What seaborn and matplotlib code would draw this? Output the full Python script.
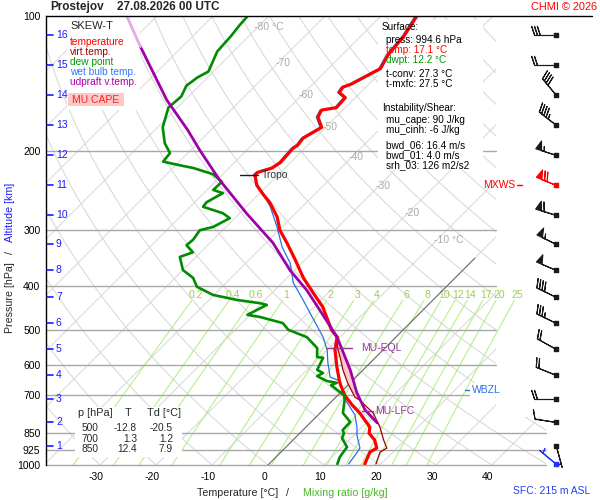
import numpy as np
import matplotlib
matplotlib.use("Agg")
import matplotlib.pyplot as plt
import seaborn as sns
from matplotlib.patches import Rectangle, Polygon
from matplotlib.transforms import ScaledTranslation
from matplotlib.ticker import NullLocator

# ---- sounding values (p in hPa, T in degC) ----
temp_p = [100, 111, 122, 131, 142, 144, 148, 152, 160, 162, 168, 177, 187, 194, 197,
          212, 218, 223, 226, 238, 250, 260, 280, 300, 320, 349, 383, 412, 445, 500,
          519, 554, 605, 657, 700, 735, 766, 823, 850, 880, 917, 936, 994.6]
temp_t = [-53.6, -52.3, -51.8, -50.7, -53.2, -54.1, -53.8, -51.8, -51.6, -53.8, -53.2,
          -50.7, -52.1, -51.8, -52.1, -51.8, -52.3, -54.1, -54.1, -52.0, -49.1, -46.6,
          -42.7, -39.8, -36.3, -31.8, -27.1, -22.9, -18.4, -12.8, -10.5, -8.6, -5.2,
          -1.8, 1.3, 4.3, 7.1, 11.4, 12.4, 14.6, 16.4, 15.9, 17.1]

virt_p = [519, 546, 575, 614, 657, 706, 717, 766, 823, 880, 917, 936, 994.6]
virt_t = [-10.3, -8.7, -6.4, -3.6, -0.4, 3.4, 4.8, 9.5, 13.2, 16.2, 18.2, 17.7, 19.1]

wetb_p = [100, 111, 122, 131, 142, 144, 148, 152, 160, 162, 168, 177, 187, 194, 197,
          212, 218, 223, 226, 240, 266, 295, 327, 355, 393, 429, 459, 488, 519, 554,
          593, 637, 650, 681, 709, 743, 774, 823, 857, 917, 950, 994.6]
wetb_t = [-53.9, -52.6, -52.1, -51.0, -53.5, -54.4, -54.1, -52.1, -51.9, -54.1, -53.5,
          -51.0, -52.4, -52.1, -52.4, -52.1, -52.6, -54.4, -54.4, -51.4, -45.7, -40.9,
          -36.4, -32.1, -28.0, -23.2, -19.6, -16.3, -13.0, -10.0, -7.5, -4.6, -2.1,
          0.0, 1.6, 4.3, 6.6, 9.1, 10.5, 13.4, 13.8, 14.2]

dew_p = [100, 105, 111, 120, 133, 137, 143, 151, 160, 177, 192, 202, 211, 215, 218,
         225, 234, 244, 248, 260, 266, 275, 282, 295, 300, 315, 324, 336, 344, 368,
         383, 401, 418, 429, 436, 440, 463, 468, 483, 500, 519, 549, 575, 577, 614,
         624, 634, 650, 656, 664, 700, 717, 766, 802, 836, 850, 871, 912, 960, 994.6]
dew_t = [-83.8, -83.6, -83.2, -82.9, -80.9, -81.8, -82.3, -81.3, -81.6, -79.1, -75.9,
         -73.2, -72.9, -69.3, -66.4, -61.8, -58.8, -58.9, -56.6, -57.9, -57.7, -53.0,
         -50.9, -52.3, -54.1, -53.6, -53.8, -51.4, -52.9, -50.0, -46.8, -44.5, -40.2,
         -35.0, -30.4, -28.8, -30.5, -27.9, -22.7, -20.5, -15.9, -12.1, -10.5, -9.3,
         -8.2, -6.6, -7.1, -4.5, -2.4, -3.0, 1.2, 2.1, 4.1, 7.0, 7.1, 7.9, 8.4, 10.9,
         11.4, 12.2]

parcel_p = [100, 117, 154, 179, 199, 232, 275, 320, 368, 408, 452, 519, 614, 691, 754, 806]
parcel_t = [-105.4, -97.5, -83.2, -74.3, -68.4, -59.5, -48.8, -38.8, -30.9, -24.3,
            -18.4, -10.5, -2.3, 3.0, 7.5, 12.0]

tropo_p, tropo_t = 226, -54.1
eql_p, lfc_p, wbzl_p = 549, 758, 681

alt_km = [16, 15, 14, 13, 12, 11, 10, 9, 8, 7, 6, 5, 4, 3, 2, 1]
alt_p = [110, 128.5, 150, 175, 204, 238, 277.5, 322, 368, 423, 483, 551.5, 630, 713, 802, 907]

wind_p = alt_p + [994.6]
wind_dir = [270, 270, 320, 308, 288, 292, 287, 296, 293, 296, 296, 299, 292, 270, 279, 165, 310]
wind_spd = [30, 20, 40, 45, 55, 70, 60, 55, 50, 40, 35, 20, 20, 20, 10, 5, 5]
wind_col = ["k"] * 5 + ["#ff0000"] + ["k"] * 10 + ["#2030ff"]

mix_w = [0.2, 0.4, 0.6, 1, 2, 3, 4, 6, 8, 10, 12, 14, 17, 20, 25]
mix_lab = ["0.2", "0.4", "0.6", "1", "2", "3", "4", "6", "8", "10", "12", "14", "17", "20", "25"]

p_ticks = [100, 200, 300, 400, 500, 600, 700, 850, 925, 1000]
t_ticks = [-30, -20, -10, 0, 10, 20, 30, 40]
iso_lab_t = [-80, -70, -60, -50, -40, -30, -20, -10]
iso_lab_p = [106, 127, 150, 177, 206, 239, 275, 315]

table_rows = [("500", "-12.8", "-20.5"), ("700", "1.3", "1.2"), ("850", "12.4", "7.9")]

# ---- style ----
sns.set_theme(style="white")
plt.rcParams["font.family"] = ["Liberation Sans", "DejaVu Sans"]
plt.rcParams["axes.unicode_minus"] = False

W, H = 600, 500
X0, PXD = 268, 5.6          # pixel of 0 degC at 1000 hPa, pixels per degC
SKEW = 449 / PXD


def fx(px):
    return px / W


def fy(py):
    return 1 - py / H


def skewx(t, p):
    return np.asarray(t, float) + SKEW * np.log10(1000.0 / np.asarray(p, float))


fig = plt.figure(figsize=(6, 5), dpi=100)
fig.patch.set_facecolor("white")
ax = fig.add_axes([fx(46), fy(465), 500 / W, 449 / H])
ax.set_yscale("log")
XL, XR, XU = (46 - X0) / PXD, (546 - X0) / PXD, (496 - X0) / PXD
ax.set_xlim(XL, XR)
ax.set_ylim(1000, 100)
ax.set_facecolor("white")
for s in ["top", "right", "bottom"]:
    ax.spines[s].set_visible(False)
ax.spines["left"].set_color("black")
ax.spines["left"].set_linewidth(1.0)

clip = Polygon([[XL, 100], [XU, 100], [XU, 780], [XR, 780], [XR, 1000], [XL, 1000]],
               closed=True, transform=ax.transData)

# background grid: isotherms and dry adiabats
pg = np.geomspace(100, 1000, 80)
for t0 in range(-130, 60, 10):
    ln, = ax.plot(skewx(np.full_like(pg, t0), pg), pg, color="#dadada", lw=0.8, zorder=1)
    ln.set_clip_path(clip)
for k in range(-4, 21):
    th = 273.15 + 10 * k
    ln, = ax.plot(skewx(th * (pg / 1000) ** 0.2857 - 273.15, pg), pg,
                  color="#dadada", lw=0.8, zorder=1)
    ln.set_clip_path(clip)

# mixing ratio lines
pm = np.geomspace(430, 1000, 30)
for w, lab in zip(mix_w, mix_lab):
    lne = np.log(w * pm / (622 + w) / 6.112)
    td = 243.5 * lne / (17.67 - lne)
    ax.plot(skewx(td, pm), pm, color="#b4f08c", lw=0.8, zorder=1.5)
    l4 = np.log(w * 418 / (622 + w) / 6.112)
    ax.text(skewx(243.5 * l4 / (17.67 - l4), 418), 418, lab, color="#a0cc50",
            ha="center", va="center", size=7.5, zorder=2)

# pressure lines
for p in p_ticks[1:]:
    xr = XU if p < 800 else XR
    ax.plot([XL, xr], [p, p], color="#a8a8a8", lw=1.0, zorder=2, clip_on=False)

pz = np.geomspace(346, 1000, 20)
ax.plot(skewx(np.zeros_like(pz), pz), pz, color="#606060", lw=0.7, zorder=2)

# isotherm labels
for t0, p in zip(iso_lab_t, iso_lab_p):
    s = f"{t0} °C" if t0 in (-80, -10) else f"{t0}"
    ax.text(skewx(t0, p) - 0.6, p, s, color="#aaaaaa", size=7.5, ha="left", va="center", zorder=2)


# white boxes (below the profiles)
def fbox(x0, y0, x1, y1, color="white", z=3):
    ax.add_patch(Rectangle((fx(x0), fy(y1)), (x1 - x0) / W, (y1 - y0) / H,
                           transform=fig.transFigure, facecolor=color,
                           edgecolor="none", zorder=z, clip_on=False))


fbox(67, 17, 140, 110)
fbox(68, 93, 124, 106, color="#ffc8c8", z=3.5)
fbox(378, 20, 483, 170)
fbox(75, 407, 182, 457)

# CAPE area
pc = np.geomspace(519, 806, 120)
xpar = np.interp(np.log(pc), np.log(parcel_p), skewx(parcel_t, parcel_p))
xtv = np.interp(np.log(pc), np.log(virt_p), skewx(virt_t, virt_p))
ax.fill_betweenx(pc, xtv, xpar, where=xpar > xtv, color="#ffc8c8", lw=0, zorder=4)

# profiles
sns.lineplot(x=skewx(wetb_t, wetb_p), y=wetb_p, sort=False, estimator=None,
             color="#2a6fe8", lw=0.9, ax=ax, zorder=5)
sns.lineplot(x=skewx(virt_t, virt_p), y=virt_p, sort=False, estimator=None,
             color="#a00000", lw=0.9, ax=ax, zorder=5.1)
sns.lineplot(x=skewx(temp_t, temp_p), y=temp_p, sort=False, estimator=None,
             color="#ff0000", lw=2.3, ax=ax, zorder=5.2)
sns.lineplot(x=skewx(dew_t, dew_p), y=dew_p, sort=False, estimator=None,
             color="#008c00", lw=1.9, ax=ax, zorder=5.2)
sns.lineplot(x=skewx(parcel_t[1:], parcel_p[1:]), y=parcel_p[1:], sort=False,
             estimator=None, color="#a000a8", lw=2.0, ax=ax, zorder=5.3)
sns.lineplot(x=skewx(parcel_t[:2], parcel_p[:2]), y=parcel_p[:2], sort=False,
             estimator=None, color="#e4a8e4", lw=2.0, ax=ax, zorder=5.3)

# level annotations
xt = skewx(tropo_t, tropo_p)
ax.plot([xt - 2.7, xt + 0.5], [tropo_p, tropo_p], color="k", lw=1, zorder=6)
ax.text(xt + 1.3, tropo_p, "Tropo", color="#333333", size=7.5, va="center", zorder=6)
xe = np.interp(np.log(eql_p), np.log(parcel_p), skewx(parcel_t, parcel_p))
ax.plot([xe - 2.7, xe + 1.8], [eql_p, eql_p], color="#993399", lw=1, zorder=6)
ax.text(xe + 3.5, eql_p, "MU-EQL", color="#993399", size=7.5, va="center", zorder=6)
xf = np.interp(np.log(lfc_p), np.log(parcel_p), skewx(parcel_t, parcel_p))
ax.plot([xf - 0.7, xf + 1.3], [lfc_p, lfc_p], color="#993399", lw=1, zorder=6)
ax.text(xf + 1.7, lfc_p, "MU-LFC", color="#993399", size=7.5, va="center", zorder=6)

ytr = ax.get_yaxis_transform()
ax.plot([0.838, 0.848], [wbzl_p, wbzl_p], transform=ytr, color="#2a6fe8", lw=1, zorder=6)
ax.text(0.852, wbzl_p, "WBZL", transform=ytr, color="#2a6fe8", size=7.5, va="center",
        zorder=6, bbox=dict(facecolor="white", edgecolor="none", pad=1.2))
ax.text(0.874, alt_p[5], "MXWS", transform=ytr, color="#ff0000", size=7.5, va="center", zorder=6)
ax.plot([0.942, 0.952], [alt_p[5], alt_p[5]], transform=ytr, color="#ff0000", lw=1,
        zorder=6, clip_on=False)

# altitude scale
for km, p in zip(alt_km, alt_p):
    ax.plot([0.002, 0.014], [p, p], transform=ytr, color="#1a1aff", lw=1.2, clip_on=False, zorder=6)
    ax.text(0.02, p, str(km), transform=ytr, color="#1a1aff", size=7.5, va="center", zorder=6)

# axes ticks
ax.set_xlim(XL, XR)
ax.set_ylim(1000, 100)
ax.set_xticks(t_ticks)
ax.set_xticklabels([str(t) for t in t_ticks])
ax.set_yticks(p_ticks)
ax.set_yticklabels([str(p) for p in p_ticks])
ax.yaxis.set_minor_locator(NullLocator())
ax.tick_params(axis="x", length=0, pad=5, labelsize=7.5, colors="black")
ax.tick_params(axis="y", length=0, pad=4, labelsize=7.5, colors="black")
off = ScaledTranslation(-0.04, 0, fig.dpi_scale_trans)
for lab in ax.get_xticklabels():
    lab.set_transform(lab.get_transform() + off)
ax.set_xlabel("")
ax.set_ylabel("")
ax.grid(False)

# wind barbs
axw = fig.add_axes([fx(496), fy(465), 104 / W, 449 / H])
axw.set_yscale("log")
axw.set_ylim(1000, 100)
axw.set_xlim(496, 600)
axw.axis("off")
for p, d, spd, c in zip(wind_p, wind_dir, wind_spd, wind_col):
    u = -spd * np.sin(np.radians(d))
    v = -spd * np.cos(np.radians(d))
    axw.barbs([556], [p], [u], [v], length=5.6, color=c, linewidth=0.8, pivot="tip",
              sizes=dict(spacing=0.13, height=0.42, width=0.28), clip_on=False, zorder=5)
    axw.scatter([556], [p], marker="s", s=6, color=c, zorder=6, clip_on=False)

# frame line on top
fig.add_artist(plt.Line2D([fx(46), fx(592)], [fy(16), fy(16)], color="black", lw=1.0))

# figure texts
fig.text(fx(50), fy(7), "Prostejov", weight="bold", size=8.5, va="center")
fig.text(fx(117), fy(7), "27.08.2026 00 UTC", weight="bold", size=8.5, va="center")
fig.text(fx(597), fy(7), "CHMI © 2026", color="#ff0000", size=7.9, va="center", ha="right")

leg = [("temperature", "#ff0000"), ("virt.temp.", "#a00000"), ("dew point", "#009900"),
       ("wet bulb temp.", "#3377ff"), ("udpraft v.temp.", "#aa00aa")]
fig.text(fx(70), fy(26), "SKEW-T", size=8, va="center", zorder=7)
for i, (s, c) in enumerate(leg):
    fig.text(fx(70), fy(42 + 10 * i), s, color=c, size=7.3, va="center")
fig.text(fx(96), fy(100), "MU CAPE", color="#ff2020", size=7.5, va="center", ha="center")

panel = [(382, 27.5, "Surface:", "black"), (386, 40, "press: 994.6 hPa", "black"),
         (386, 50, "temp: 17.1 °C", "#ff0000"), (386, 60, "dwpt: 12.2 °C", "#009900"),
         (386, 74, "t-conv: 27.3 °C", "black"), (386, 84, "t-mxfc: 27.5 °C", "black"),
         (382, 108, "Instability/Shear:", "black"), (386, 120, "mu_cape: 90 J/kg", "black"),
         (386, 130, "mu_cinh: -6 J/kg", "black"), (386, 145, "bwd_06: 16.4 m/s", "black"),
         (386, 155, "bwd_01: 4.0 m/s", "black"), (386, 165, "srh_03: 126 m2/s2", "black")]
for x, y, s, c in panel:
    fig.text(fx(x), fy(y), s, color=c, size=7.2, va="center")

fig.text(fx(78), fy(413), "p [hPa]", size=7.8, va="center")
fig.text(fx(128), fy(413), "T", size=7.8, va="center", ha="center")
fig.text(fx(147), fy(413), "Td [°C]", size=7.8, va="center")
for i, row in enumerate(table_rows):
    for x, s in zip([98, 137, 173], row):
        fig.text(fx(x), fy(428 + 10.5 * i), s, size=7.3, va="center", ha="right")

fig.text(fx(10), fy(297.5), "Pressure [hPa]", rotation=90, size=7.7, va="center", ha="center")
fig.text(fx(10), fy(252), "/", rotation=90, size=7.7, va="center", ha="center")
fig.text(fx(10), fy(212), "Altitude [km]", rotation=90, size=7.7, va="center", ha="center",
         color="#1a1aff")

fig.text(fx(237.5), fy(493), "Temperature [°C]", size=7.7, va="center", ha="center")
fig.text(fx(288), fy(493), "/", size=7.7, va="center", ha="center")
fig.text(fx(345), fy(493), "Mixing ratio [g/kg]", size=7.7, va="center", ha="center",
         color="#44bb22")
fig.text(fx(590), fy(491), "SFC: 215 m ASL", size=7.5, va="center", ha="right", color="#2244ee")

fig.savefig("out.png", dpi=100, facecolor="white")
